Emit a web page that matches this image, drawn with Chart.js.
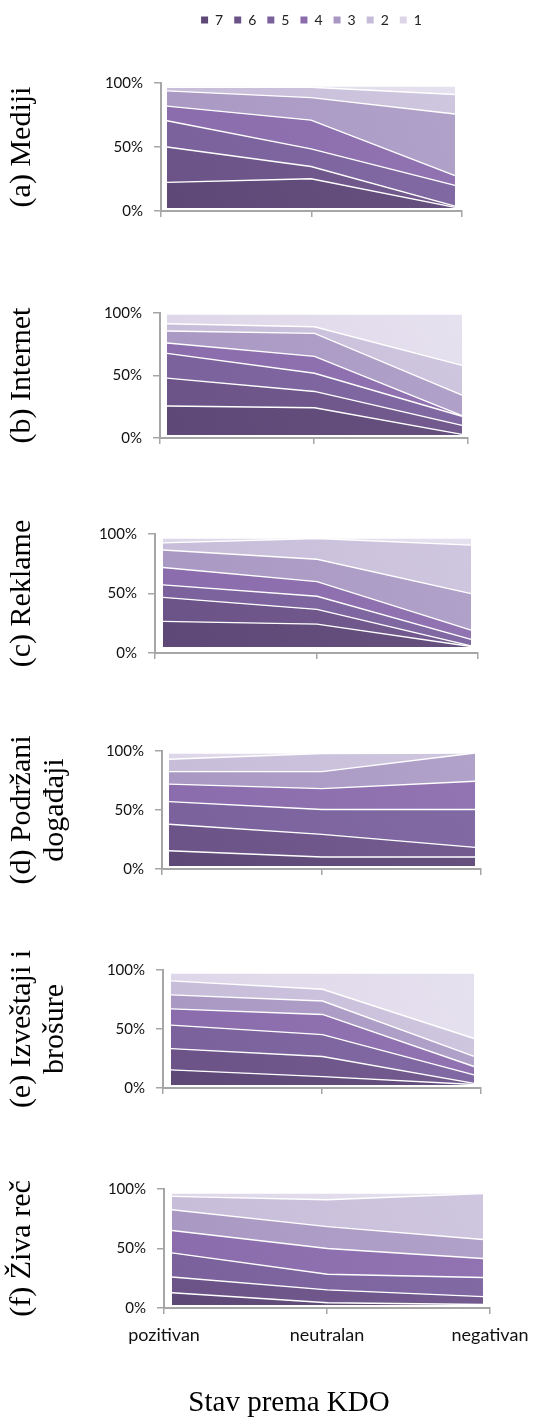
<!DOCTYPE html>
<html><head><meta charset="utf-8">
<script src="https://cdn.jsdelivr.net/npm/chart.js@4.4.0/dist/chart.umd.min.js"></script>
<style>
html,body{margin:0;padding:0;background:#fff;width:542px;height:1418px;overflow:hidden;position:relative}
canvas{position:absolute}
</style></head><body>
<script>
// ---------- data ----------
const categories = ['pozitivan', 'neutralan', 'negativan'];
const seriesNames = ['7', '6', '5', '4', '3', '2', '1'];
const yTickValues = [0, 50, 100];
const xTitle = 'Stav prema KDO';

// rows: series 7..1 ; columns: pozitivan, neutralan, negativan (% share)
const mediji = [
  [21, 24, 0.5], [29, 10, 1], [21.5, 14.5, 17], [12, 23.5, 8],
  [12.5, 18.5, 50.5], [3, 8.5, 16], [1, 1, 7]
];
const internet = [
  [24, 22.5, 0.5], [23, 13.5, 7.5], [20.5, 15, 7.5], [8.5, 14, 0.5],
  [10, 19, 17], [6, 5.5, 24.5], [8, 10.5, 42.5]
];
const reklame = [
  [23.5, 21, 0.5], [22, 13.5, 0.5], [11.5, 12, 6], [16, 13.5, 8.5],
  [16, 20.5, 33.5], [6.5, 19, 44.5], [4.5, 0.5, 6.5]
];
const podrzaniDogadjaji = [
  [13.5, 8, 8], [23.5, 20, 8.5], [20, 22, 33.5], [15.5, 18.5, 25],
  [11, 15, 25], [11, 16, 0], [5.5, 0.5, 0]
];
const izvestajiBrosure = [
  [13.5, 7.5, 0.5], [19, 18, 1], [21, 19.5, 7.5], [14.5, 18, 7.5],
  [12.5, 12, 9], [12.5, 10.5, 16], [7, 14.5, 58.5]
];
const zivaRec = [
  [11, 2, 0.5], [14, 11.5, 7], [21.5, 14, 17], [20, 23, 17],
  [18.5, 19.5, 17], [12, 24, 41], [3, 6, 0.5]
];
const panelValues = [mediji, internet, reklame, podrzaniDogadjaji, izvestajiBrosure, zivaRec];
const panelTitles = ['(a) Mediji', '(b) Internet', '(c) Reklame',
  ['(d) Podržani', 'događaji'], ['(e) Izveštaji i', 'brošure'], '(f) Živa reč'];

// ---------- style / layout ----------
const seriesColors = ['#5d4877', '#6b5388', '#7a619b', '#8a6bab', '#a897c2', '#c6bcd9', '#dcd5e8'];
const seriesColorsLight = ['#66517f', '#745c91', '#826aa4', '#9274b3', '#b1a2ca', '#cfc6df', '#e6e1ef'];
const axisColor = '#a6a6a6';
// L,R,T,B: visible axis box; dl,dr,dt,db: drawn data area (3D offset)
const geometry = [
  {L: 161, R: 462, T: 83,   B: 211,  dl: 167, dr: 455, dt: 86,   db: 208},
  {L: 160, R: 468, T: 313,  B: 438,  dl: 167, dr: 462, dt: 314,  db: 435},
  {L: 155, R: 478, T: 534,  B: 653,  dl: 163, dr: 471, dt: 538,  db: 647},
  {L: 162, R: 481, T: 751,  B: 869,  dl: 169, dr: 475, dt: 753,  db: 866},
  {L: 163, R: 481, T: 970,  B: 1088, dl: 171, dr: 474, dt: 973,  db: 1085},
  {L: 164, R: 490, T: 1189, B: 1308, dl: 172, dr: 483, dt: 1193, db: 1305}
];
const PAGE_W = 542;

function makeCanvas(left, top, w, h) {
  const c = document.createElement('canvas');
  c.width = w; c.height = h;
  c.style.left = left + 'px'; c.style.top = top + 'px';
  c.style.width = w + 'px'; c.style.height = h + 'px';
  document.body.appendChild(c);
  return c.getContext('2d');
}

const common = {
  responsive: false, animation: false, events: [],
  plugins: {legend: {display: false}, tooltip: {enabled: false}, title: {display: false}}
};

function areaFill(i) {
  return (c) => {
    const ca = c.chart.chartArea;
    if (!ca) return seriesColors[i];
    const gr = c.chart.ctx.createLinearGradient(ca.left, ca.bottom, ca.right, ca.top);
    gr.addColorStop(0, seriesColors[i]);
    gr.addColorStop(1, seriesColorsLight[i]);
    return gr;
  };
}

panelValues.forEach((values, p) => {
  const g = geometry[p];
  const last = p === panelValues.length - 1;
  const canvasTop = g.T - 45;
  const canvasBottom = g.B + (last ? 50 : 40);
  const xH = canvasBottom - g.B;
  const xRange = 2 * (g.R - g.L) / (g.dr - g.dl);
  const xMin = -(g.dl - g.L) / (g.R - g.L) * xRange;
  const yRange = 100 * (g.B - g.T) / (g.db - g.dt);
  const yMin = -(g.B - g.db) / (g.B - g.T) * yRange;

  const ctx = makeCanvas(0, canvasTop, PAGE_W, canvasBottom - canvasTop);
  new Chart(ctx, {
    type: 'line',
    data: {
      labels: categories,
      datasets: seriesNames.map((name, i) => ({
        label: name,
        data: values[i].map((v, j) => ({x: j, y: v})),
        xAxisID: 'xd', yAxisID: 'yd',
        backgroundColor: areaFill(i),
        borderColor: '#ffffff',
        borderWidth: 1.4,
        pointRadius: 0,
        tension: 0,
        fill: i === 0 ? 'origin' : '-1'
      }))
    },
    options: Object.assign({}, common, {
      layout: {padding: {top: g.T - canvasTop, right: PAGE_W - g.R, bottom: 0, left: 0}},
      scales: {
        x: {
          type: 'category', position: 'bottom', labels: categories,
          grid: {drawOnChartArea: false, drawTicks: true, tickLength: 6, color: axisColor, lineWidth: 1.5},
          border: {display: true, color: axisColor, width: 2},
          ticks: {display: last, font: {family: 'Lato', size: 18}, color: '#111', padding: 10, maxRotation: 0, autoSkip: false},
          afterFit: s => { s.height = xH; }
        },
        y: {
          type: 'linear', position: 'left', min: 0, max: 100,
          afterBuildTicks: s => { s.ticks = yTickValues.map(v => ({value: v})); },
          grid: {drawOnChartArea: false, drawTicks: true, tickLength: 7, color: axisColor, lineWidth: 1.5},
          border: {display: true, color: axisColor, width: 2},
          ticks: {font: {family: 'Lato', size: 15}, color: '#111', padding: 11, callback: v => v + '%'},
          title: {display: true, text: panelTitles[p], color: '#000',
                  font: {family: 'Liberation Serif', size: 30, lineHeight: 1.1}, padding: {top: 6, bottom: 0}},
          afterFit: s => { s.width = g.L; }
        },
        xd: {type: 'linear', position: 'bottom', display: false, min: xMin, max: xMin + xRange},
        yd: {type: 'linear', position: 'left', display: false, stacked: true, min: yMin, max: yMin + yRange}
      }
    })
  });
});

// legend (centered over the first plot area)
{
  const g = geometry[0];
  const ctx = makeCanvas(g.L, 0, g.R - g.L, 80);
  new Chart(ctx, {
    type: 'line',
    data: {datasets: seriesNames.map((name, i) => ({label: name, data: [], backgroundColor: seriesColors[i], borderColor: seriesColors[i], borderWidth: 0}))},
    options: Object.assign({}, common, {
      layout: {padding: {top: 2}},
      plugins: {tooltip: {enabled: false},
        legend: {display: true, position: 'top', maxHeight: 60,
          labels: {boxWidth: 7, boxHeight: 7, padding: 11, color: '#222', font: {family: 'Lato', size: 14}}}},
      scales: {x: {display: false}, y: {display: false}}
    })
  });
}

// overall x-axis title
{
  const ctx = makeCanvas(89, 1378, 400, 40);
  new Chart(ctx, {
    type: 'line',
    data: {datasets: []},
    options: Object.assign({}, common, {
      plugins: {legend: {display: false}, tooltip: {enabled: false},
        title: {display: true, text: xTitle, color: '#000', position: 'top',
          font: {family: 'Liberation Serif', size: 29, weight: 'normal', lineHeight: 1.2}, padding: {top: 8, bottom: 0}}},
      scales: {x: {display: false}, y: {display: false}}
    })
  });
}
</script>
</body></html>
